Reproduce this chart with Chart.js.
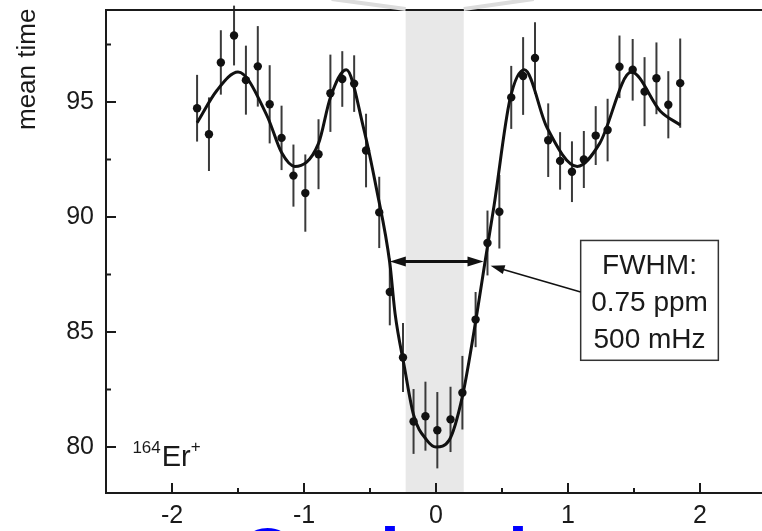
<!DOCTYPE html>
<html>
<head>
<meta charset="utf-8">
<script src="https://cdn.jsdelivr.net/npm/chart.js@4.4.1/dist/chart.umd.min.js"></script>
<style>
  html, body { margin: 0; padding: 0; background: #fff; overflow: hidden; width: 762px; height: 531px; }
  canvas { display: block; }
</style>
</head>
<body>
<canvas id="chart" width="780" height="531"></canvas>
<script>
// measured points
const detuning = [-1.81, -1.72, -1.63, -1.53, -1.44, -1.35, -1.26, -1.17, -1.08, -0.99, -0.89, -0.80, -0.71, -0.62,
  -0.53, -0.43, -0.35, -0.25, -0.17, -0.08, 0.01, 0.11, 0.20, 0.30, 0.39, 0.48, 0.57, 0.66, 0.75, 0.85, 0.94,
  1.03, 1.12, 1.21, 1.30, 1.39, 1.49, 1.58, 1.67, 1.76, 1.85];
const meanTime = [94.73, 93.6, 96.72, 97.89, 95.95, 96.55, 94.9, 93.44, 91.8, 91.04, 92.73, 95.38, 96.0, 95.8,
  92.89, 90.2, 86.74, 83.89, 81.11, 81.34, 80.73, 81.2, 82.36, 85.54, 88.87, 90.23, 95.2, 96.13, 96.91, 93.34, 92.44,
  91.97, 92.5, 93.54, 93.78, 96.53, 96.4, 95.45, 96.03, 94.88, 95.82];
const meanTimeErr = [1.45, 1.6, 1.4, 1.3, 1.5, 1.75, 1.7, 1.4, 1.35, 1.68, 1.52, 1.68, 1.21, 1.23,
  1.6, 1.55, 1.45, 1.5, 1.41, 1.5, 1.66, 1.42, 1.6, 1.2, 1.41, 1.6, 1.37, 1.69, 1.56, 1.6, 1.25,
  1.32, 1.24, 1.28, 1.36, 1.36, 1.34, 1.5, 1.56, 1.46, 1.94];

// fit curve
const fitX = [-1.81, -1.66, -1.50, -1.28, -1.17, -1.07, -0.89, -0.80, -0.68, -0.55, -0.45, -0.35, -0.31, -0.24,
  -0.17, -0.07, 0.00, 0.10, 0.20, 0.31, 0.37, 0.44, 0.56, 0.67, 0.84, 1.07, 1.24, 1.48, 1.70, 1.85];
const fitY = [94.1, 95.5, 96.3, 94.4, 92.8, 92.2, 93.2, 95.2, 96.4, 93.9, 91.2, 88.0, 85.8, 83.5,
  81.4, 80.3, 80.0, 80.3, 82.2, 85.8, 88.0, 90.5, 95.1, 96.4, 93.9, 92.2, 93.2, 96.3, 94.6, 94.0];

const xTicks = [-2, -1, 0, 1, 2];
const xMinorTicks = [-1.5, -0.5, 0.5, 1.5];
const yTicks = [80, 85, 90, 95];
const yMinorTicks = [82.5, 87.5, 92.5, 97.5];

const bandRange = [-0.23, 0.21];
const fwhmRange = [-0.35, 0.36];
const fwhmLevel = 88.07;
const noteLines = ['FWHM:', '0.75 ppm', '500 mHz'];
const yTitle = 'mean time (ms)';

const FONT = '"Liberation Sans", Arial, Helvetica, sans-serif';
const INK = '#1a1a1a';

function arrowHead(ctx, tipX, tipY, fromX, fromY, len, half) {
  const ang = Math.atan2(tipY - fromY, tipX - fromX);
  const c = Math.cos(ang), s = Math.sin(ang);
  ctx.beginPath();
  ctx.moveTo(tipX, tipY);
  ctx.lineTo(tipX - len * c + half * s, tipY - len * s - half * c);
  ctx.lineTo(tipX - len * c - half * s, tipY - len * s + half * c);
  ctx.closePath();
  ctx.fill();
}

const decor = {
  id: 'decor',
  beforeDatasetsDraw(chart) {
    const { ctx, chartArea: a, scales: { x, y } } = chart;
    ctx.save();
    // shaded band
    const b0 = x.getPixelForValue(bandRange[0]);
    const b1 = x.getPixelForValue(bandRange[1]);
    ctx.fillStyle = '#e8e8e8';
    ctx.fillRect(b0, a.top, b1 - b0, a.bottom - a.top);
    // error bars
    ctx.strokeStyle = '#3a3a3a';
    ctx.lineWidth = 2;
    detuning.forEach((d, i) => {
      const px = x.getPixelForValue(d);
      ctx.beginPath();
      ctx.moveTo(px, y.getPixelForValue(meanTime[i] + meanTimeErr[i]));
      ctx.lineTo(px, y.getPixelForValue(meanTime[i] - meanTimeErr[i]));
      ctx.stroke();
    });
    ctx.restore();
  },
  afterDatasetsDraw(chart) {
    const { ctx, chartArea: a, scales: { x, y } } = chart;
    ctx.save();

    // frame
    ctx.strokeStyle = INK;
    ctx.lineWidth = 2;
    ctx.strokeRect(a.left, a.top, a.right - a.left, a.bottom - a.top);

    // inward ticks
    ctx.beginPath();
    yTicks.forEach(v => { const p = y.getPixelForValue(v); ctx.moveTo(a.left, p); ctx.lineTo(a.left + 10, p); });
    yMinorTicks.forEach(v => { const p = y.getPixelForValue(v); ctx.moveTo(a.left, p); ctx.lineTo(a.left + 5, p); });
    xTicks.forEach(v => { const p = x.getPixelForValue(v); ctx.moveTo(p, a.bottom); ctx.lineTo(p, a.bottom - 10); });
    xMinorTicks.forEach(v => { const p = x.getPixelForValue(v); ctx.moveTo(p, a.bottom); ctx.lineTo(p, a.bottom - 5); });
    ctx.stroke();

    // zoom lines above the band
    const b0 = x.getPixelForValue(bandRange[0]);
    const b1 = x.getPixelForValue(bandRange[1]);
    ctx.strokeStyle = '#dcdcdc';
    ctx.lineWidth = 4;
    ctx.beginPath();
    ctx.moveTo(b0, a.top - 1); ctx.lineTo(b0 - 74, a.top - 11);
    ctx.moveTo(b1, a.top - 1); ctx.lineTo(b1 + 70, a.top - 11);
    ctx.stroke();

    // FWHM double arrow
    const fx0 = x.getPixelForValue(fwhmRange[0]);
    const fx1 = x.getPixelForValue(fwhmRange[1]);
    const fy = y.getPixelForValue(fwhmLevel);
    ctx.strokeStyle = '#111';
    ctx.fillStyle = '#111';
    ctx.lineWidth = 3;
    ctx.beginPath();
    ctx.moveTo(fx0 + 10, fy); ctx.lineTo(fx1 - 10, fy);
    ctx.stroke();
    arrowHead(ctx, fx0, fy, fx1, fy, 16, 5);
    arrowHead(ctx, fx1, fy, fx0, fy, 16, 5);

    // note box
    const bx0 = x.getPixelForValue(1.096), bx1 = x.getPixelForValue(2.139);
    const by0 = y.getPixelForValue(88.98), by1 = y.getPixelForValue(83.77);
    ctx.fillStyle = '#fff';
    ctx.fillRect(bx0, by0, bx1 - bx0, by1 - by0);
    ctx.strokeStyle = '#333';
    ctx.lineWidth = 1.5;
    ctx.strokeRect(bx0, by0, bx1 - bx0, by1 - by0);
    ctx.fillStyle = '#1a1a1a';
    ctx.font = '28px ' + FONT;
    ctx.textAlign = 'center';
    ctx.textBaseline = 'alphabetic';
    const cx = (bx0 + bx1) / 2;
    noteLines.forEach((t, i) => ctx.fillText(t, cx, by0 + 34 + i * 36.7));

    // pointer from box to curve
    const sx = bx0, sy = y.getPixelForValue(86.74);
    const tx = x.getPixelForValue(0.414), ty = y.getPixelForValue(87.88);
    ctx.strokeStyle = '#111';
    ctx.fillStyle = '#111';
    ctx.lineWidth = 1.5;
    ctx.beginPath();
    ctx.moveTo(sx, sy); ctx.lineTo(tx + 10, ty + 3);
    ctx.stroke();
    arrowHead(ctx, tx, ty, sx, sy, 14, 4.5);

    // isotope label
    const ex = x.getPixelForValue(-2.3), ey = y.getPixelForValue(79.17);
    ctx.textAlign = 'left';
    ctx.fillStyle = '#1a1a1a';
    ctx.font = '17px ' + FONT;
    ctx.fillText('164', ex, ey - 13);
    const sup = ctx.measureText('164').width;
    ctx.font = '29px ' + FONT;
    ctx.fillText('Er', ex + sup + 1, ey);
    const erw = ctx.measureText('Er').width;
    ctx.font = '17px ' + FONT;
    ctx.fillText('+', ex + sup + erw + 1, ey - 14);

    // y title (cropped)
    ctx.save();
    ctx.translate(35, 130);
    ctx.rotate(-Math.PI / 2);
    ctx.font = '26px ' + FONT;
    ctx.textAlign = 'left';
    ctx.fillText(yTitle, 0, 0);
    ctx.restore();

    // cropped slide caption below
    ctx.fillStyle = '#0000ff';
    ctx.font = 'bold 72px ' + FONT;
    ctx.textAlign = 'left';
    ctx.fillText('Coulomb', 240, 579);

    ctx.restore();
  }
};

new Chart(document.getElementById('chart'), {
  type: 'scatter',
  data: {
    datasets: [
      {
        label: 'data',
        data: detuning.map((d, i) => ({ x: d, y: meanTime[i] })),
        pointRadius: 4.2,
        pointBackgroundColor: '#111',
        pointBorderWidth: 0,
        showLine: false
      },
      {
        label: 'fit',
        data: fitX.map((d, i) => ({ x: d, y: fitY[i] })),
        showLine: true,
        pointRadius: 0,
        borderColor: '#111',
        borderWidth: 3,
        cubicInterpolationMode: 'monotone',
        fill: false
      }
    ]
  },
  options: {
    responsive: false,
    animation: false,
    devicePixelRatio: 1,
    layout: { autoPadding: false, padding: { top: 10, right: 14, left: 0, bottom: 0 } },
    plugins: { legend: { display: false }, title: { display: false }, tooltip: { enabled: false } },
    scales: {
      x: {
        type: 'linear',
        min: -2.5,
        max: 2.5,
        grid: { display: false, drawTicks: false },
        border: { display: false },
        afterBuildTicks: s => { s.ticks = xTicks.map(v => ({ value: v })); },
        afterFit: s => { s.height = 38; s.paddingLeft = 0; s.paddingRight = 0; s.paddingTop = 0; s.paddingBottom = 0; },
        ticks: { color: '#1a1a1a', padding: 8, maxRotation: 0, font: { family: FONT, size: 25 } }
      },
      y: {
        min: 78,
        max: 99,
        grid: { display: false, drawTicks: false },
        border: { display: false },
        afterBuildTicks: s => { s.ticks = yTicks.map(v => ({ value: v })); },
        afterFit: s => { s.width = 106; s.paddingLeft = 0; s.paddingRight = 0; s.paddingTop = 0; s.paddingBottom = 0; },
        ticks: { color: '#1a1a1a', padding: 12, font: { family: FONT, size: 25 } }
      }
    }
  },
  plugins: [decor]
});
</script>
</body>
</html>
